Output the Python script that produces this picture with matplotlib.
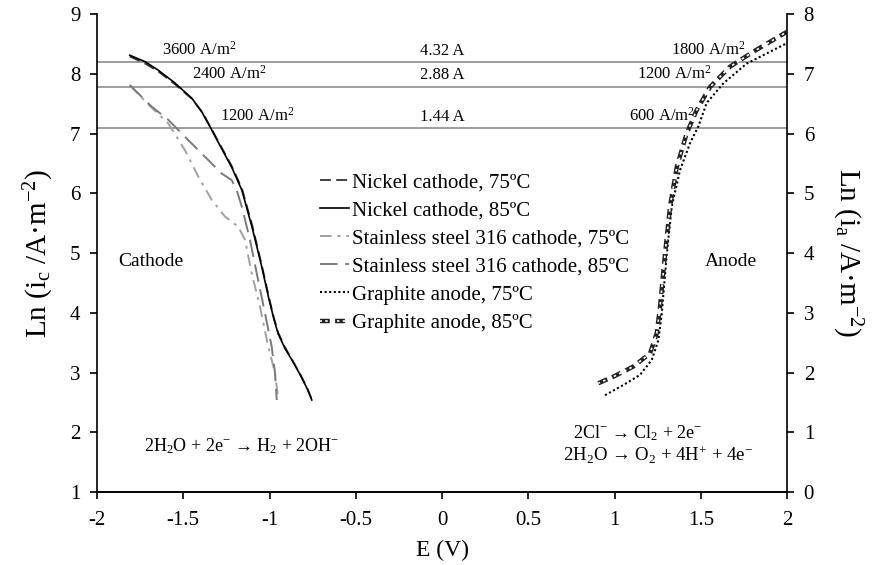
import numpy as np
import matplotlib
matplotlib.use("Agg")
import matplotlib.pyplot as plt
from matplotlib.legend_handler import HandlerTuple

plt.rcParams['font.family'] = ['Liberation Serif', 'DejaVu Serif']
plt.rcParams['mathtext.fontset'] = 'custom'
plt.rcParams['mathtext.rm'] = 'Liberation Serif'
plt.rcParams['mathtext.it'] = 'Liberation Serif'
plt.rcParams['mathtext.default'] = 'regular'
plt.rcParams['axes.unicode_minus'] = False

# cathode curves (left axis)
ni_E = [-1.81, -1.72, -1.645, -1.55, -1.45, -1.39, -1.335, -1.28, -1.22, -1.16,
        -1.10, -1.045, -1.005, -0.975, -0.95, -0.91, -0.87, -0.82, -0.78, -0.755]
ni75_ln = [8.29, 8.17, 8.04, 7.83, 7.58, 7.36, 7.07, 6.78, 6.46, 6.08,
           5.46, 4.80, 4.28, 3.92, 3.67, 3.42, 3.22, 2.96, 2.73, 2.55]
ni85_ln = [8.31, 8.20, 8.06, 7.85, 7.59, 7.35, 7.06, 6.76, 6.44, 6.05,
           5.42, 4.77, 4.25, 3.90, 3.65, 3.40, 3.21, 2.95, 2.72, 2.54]

ss75_E = [-1.81, -1.70, -1.587, -1.49, -1.413, -1.335, -1.258, -1.181, -1.142,
          -1.103, -1.055, -1.007, -0.968, -0.949]
ss75_ln = [7.81, 7.48, 7.17, 6.72, 6.28, 5.89, 5.61, 5.44, 5.22,
           4.66, 4.10, 3.43, 2.99, 2.54]
ss85_E = [-1.81, -1.683, -1.587, -1.471, -1.374, -1.277, -1.219, -1.19, -1.161,
          -1.113, -1.074, -1.026, -0.987, -0.968, -0.958]
ss85_ln = [7.81, 7.45, 7.23, 6.89, 6.61, 6.33, 6.22, 6.05, 5.78,
           5.22, 4.66, 3.99, 3.43, 2.99, 2.54]

# anode curves (right axis)
gr75_E = [0.945, 1.051, 1.148, 1.216, 1.254, 1.274, 1.303, 1.332, 1.38, 1.438,
          1.486, 1.534, 1.631, 1.766, 1.882, 1.998]
gr75_ln = [1.62, 1.79, 1.96, 2.21, 2.54, 2.99, 3.99, 4.78, 5.39, 5.84,
           6.12, 6.51, 6.84, 7.17, 7.34, 7.51]
gr85_E = [0.906, 0.993, 1.109, 1.206, 1.245, 1.264, 1.293, 1.322, 1.361, 1.418,
          1.476, 1.554, 1.67, 1.805, 1.998]
gr85_ln = [1.82, 1.93, 2.10, 2.32, 2.66, 3.10, 3.99, 4.78, 5.44, 6.00,
           6.39, 6.78, 7.12, 7.37, 7.70]

# reference current densities
ref_ln = [np.log(3600), np.log(2400), np.log(1200)]
ref_left = ['3600 A/m$^2$', '2400 A/m$^2$', '1200 A/m$^2$']
ref_mid = ['4.32 A', '2.88 A', '1.44 A']
ref_right = ['1800 A/m$^2$', '1200 A/m$^2$', '600 A/m$^2$']

fig = plt.figure(figsize=(8.77, 5.65), dpi=100)
ax = fig.add_axes([0.1106, 0.1292, 0.7868, 0.846])
ax2 = ax.twinx()

for v in ref_ln:
    ax.axhline(v, color='#8c8c8c', lw=1.2, zorder=1)

l1, = ax.plot(ni_E, ni75_ln, color='#333333', lw=1.3, ls=(0, (6, 3)))
l2, = ax.plot(ni_E, ni85_ln, color='black', lw=1.2)
l3, = ax.plot(ss75_E, ss75_ln, color='#a0a0a0', lw=1.4, ls=(0, (6, 3, 1.5, 3)))
l4, = ax.plot(ss85_E, ss85_ln, color='#7a7a7a', lw=1.4, ls=(0, (9, 4)))

l5, = ax2.plot(gr75_E, gr75_ln, color='black', lw=1.5, ls=(0, (1, 1.2)))
l6a, = ax2.plot(gr85_E, gr85_ln, color='#222222', lw=3.2, ls=(0, (2.2, 1.2)))
l6b, = ax2.plot(gr85_E, gr85_ln, color='white', lw=1.2, ls=(0.35, (1.5, 2.0)))

ax.set_xlim(-2, 2)
ax.set_ylim(1, 9)
ax2.set_ylim(0, 8)
ax.set_xticks(np.arange(-2, 2.01, 0.5))
ax.set_xticklabels(['-2', '-1.5', '-1', '-0.5', '0', '0.5', '1', '1.5', '2'])
ax.set_yticks(range(1, 10))
ax2.set_yticks(range(0, 9))

for a in (ax, ax2):
    a.spines['top'].set_visible(False)
    for s in a.spines.values():
        s.set_linewidth(1.2)
    a.tick_params(direction='out', length=5, width=1.2, labelsize=15, pad=7)
ax.tick_params(axis='x', pad=9)
ax.spines['right'].set_visible(False)
ax2.spines['left'].set_visible(False)

ax.set_xlabel('E (V)', fontsize=17, labelpad=7)
ax.set_ylabel('Ln (i$_c$ /A·m$^{-2}$)', fontsize=21, labelpad=10)
ax2.set_ylabel('Ln (i$_a$ /A·m$^{-2}$)', fontsize=21, rotation=270, labelpad=36)

for v, t1, t2, t3, x1, x3 in zip(ref_ln, ref_left, ref_mid, ref_right,
                                 [-1.409, -1.235, -1.072], [1.545, 1.345, 1.278]):
    ax.text(x1, v + 0.06, t1, ha='center', va='bottom', fontsize=12)
    ax.text(0, v + 0.06, t2, ha='center', va='bottom', fontsize=12)
    ax.text(x3, v + 0.06, t3, ha='center', va='bottom', fontsize=12)

ax.text(-1.687, 4.85, 'Cathode', ha='center', va='center', fontsize=14)
ax.text(1.672, 4.85, 'Anode', ha='center', va='center', fontsize=14)
ax.text(-1.162, 1.76, '2H$_2$O + 2e$^{-}$ → H$_2$ + 2OH$^{-}$', ha='center', va='center', fontsize=13)
ax.text(0.759, 1.99, '2Cl$^{-}$ → Cl$_2$ + 2e$^{-}$', ha='left', va='center', fontsize=13)
ax.text(0.701, 1.61, '2H$_2$O → O$_2$ + 4H$^{+}$ + 4e$^{-}$', ha='left', va='center', fontsize=13.5)

handles = [l1, l2, l3, l4, l5, (l6a, l6b)]
labels = ['Nickel cathode, 75ºC', 'Nickel cathode, 85ºC',
          'Stainless steel 316 cathode, 75ºC', 'Stainless steel 316 cathode, 85ºC',
          'Graphite anode, 75ºC', 'Graphite anode, 85ºC']
ax2.legend(handles, labels, loc='upper left', bbox_to_anchor=(0.323, 0.668),
           frameon=False, fontsize=15, handlelength=1.4, handletextpad=0.15,
           labelspacing=0.41, borderpad=0, borderaxespad=0,
           handler_map={tuple: HandlerTuple(ndivide=1)})

plt.savefig('out.png', dpi=100)
